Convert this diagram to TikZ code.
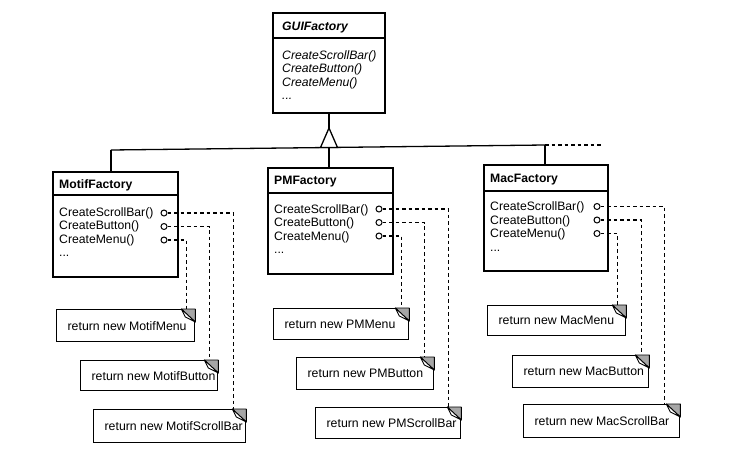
\documentclass[tikz,border=0pt]{standalone}
\usepackage{fontspec}
\setmainfont{Liberation Sans}
\usetikzlibrary{calc}
\newcommand{\dogear}[1]{%
  \filldraw[fill=gray!70, draw=black, line width=0.9pt, line join=round]
    ($(#1.north east)+(-14,0)$) -- (#1.north east) -- ($(#1.north east)+(0,13)$) -- cycle;
  \filldraw[fill=white, draw=black, line width=0.9pt, line join=round]
    ($(#1.north east)+(-14,0)$) -- ($(#1.north east)+(0,13)$) -- ($(#1.north east)+(-10,8)$) -- cycle;
}
\newcommand{\notetxt}[2]{\makebox[#1][l]{\hspace*{11pt}#2}}
\begin{document}
\begin{tikzpicture}[x=1pt, y=-1pt,
  cls/.style={draw, line width=1.5pt, inner sep=0, anchor=north west, fill=white},
  ln/.style={line width=1.3pt},
  dsh/.style={line width=1.2pt, dash pattern=on 3.5pt off 3pt},
  txt/.style={inner sep=0, anchor=base west, font=\fontsize{12.2}{14}\selectfont},
  ttl/.style={txt, font=\fontsize{12.2}{14}\selectfont\bfseries},
  port/.style={circle, draw, line width=1pt, fill=white, inner sep=0, minimum size=6pt},
  notebox/.style={draw, line width=1.3pt, fill=white, anchor=north west,
    inner sep=0pt, font=\fontsize{12.3}{14}\selectfont}
]
\useasboundingbox (0,0) rectangle (732,458);

% ---------- GUIFactory ----------
\node[cls, minimum width=112pt, minimum height=100pt] (gui) at (272,12) {};
\draw[ln] ($(gui.north west)+(0,26)$) -- ($(gui.north east)+(0,26)$);
\node[txt, font=\fontsize{12.2}{14}\selectfont\bfseries\itshape] (guit) at (282,30.5) {GUIFactory};
\node[txt, font=\fontsize{12.2}{14}\selectfont\itshape] (gui1) at (282,59.3) {CreateScrollBar()};
\node[txt, font=\fontsize{12.2}{14}\selectfont\itshape] (gui2) at (282,72.8) {CreateButton()};
\node[txt, font=\fontsize{12.2}{14}\selectfont\itshape] (gui3) at (282,86.3) {CreateMenu()};
\node[txt, font=\fontsize{12.2}{14}\selectfont\itshape] (gui4) at (282,99.8) {...};

% ---------- inheritance ----------
\coordinate (apex) at (329,128);
\coordinate (jm) at (111,150);
\coordinate (jp) at (329,147.5);
\coordinate (jc) at (545,145);
\coordinate (jend) at (603,145);
\draw[ln] (apex |- gui.south) -- (apex);
\draw[ln] (jm) -- (jc);
\draw[dsh, line width=1.3pt] (jc) -- (jend);
\draw[ln, fill=white, line join=miter] ($(jp)+(-8.5,0)$) -- (apex) -- ($(jp)+(8.5,0)$) -- cycle;

% ---------- MotifFactory ----------
\node[cls, minimum width=125pt, minimum height=105pt] (motif) at (52,171) {};
\draw[ln] (jm) -- (jm |- motif.north);
\draw[ln] ($(motif.north west)+(0,24)$) -- ($(motif.north east)+(0,24)$);
\node[ttl] (motift) at (59,188.3) {MotifFactory};
\node[txt] (motif1) at (59,216.3) {CreateScrollBar()};
\node[txt] (motif2) at (59,229.8) {CreateButton()};
\node[txt] (motif3) at (59,243.3) {CreateMenu()};
\node[txt] (motif4) at (59,256.8) {...};

% ---------- PMFactory ----------
\node[cls, minimum width=125pt, minimum height=106pt] (pm) at (267,167) {};
\draw[ln] (jp) -- (jp |- pm.north);
\draw[ln] ($(pm.north west)+(0,26)$) -- ($(pm.north east)+(0,26)$);
\node[ttl] (pmt) at (274,184.3) {PMFactory};
\node[txt] (pm1) at (274,213.3) {CreateScrollBar()};
\node[txt] (pm2) at (274,226.8) {CreateButton()};
\node[txt] (pm3) at (274,240.3) {CreateMenu()};
\node[txt] (pm4) at (274,253.8) {...};

% ---------- MacFactory ----------
\node[cls, minimum width=124pt, minimum height=106pt] (mac) at (483,164) {};
\draw[ln] (jc) -- (jc |- mac.north);
\draw[ln] ($(mac.north west)+(0,27)$) -- ($(mac.north east)+(0,27)$);
\node[ttl] (mact) at (490,182.3) {MacFactory};
\node[txt] (mac1) at (490,210.8) {CreateScrollBar()};
\node[txt] (mac2) at (490,224.3) {CreateButton()};
\node[txt] (mac3) at (490,237.8) {CreateMenu()};
\node[txt] (mac4) at (490,251.3) {...};

% ---------- notes ----------
\node[notebox, minimum height=32pt] (nmm) at (56,309) {\notetxt{138pt}{return new MotifMenu}};
\node[notebox, minimum height=30pt] (nmb) at (80,360) {\notetxt{137pt}{return new MotifButton}};
\node[notebox, minimum height=33pt] (nms) at (93,409) {\notetxt{152pt}{return new MotifScrollBar}};

\node[notebox, minimum height=31pt] (npm) at (273,308) {\notetxt{135pt}{return new PMMenu}};
\node[notebox, minimum height=32pt] (npb) at (296,357) {\notetxt{137pt}{return new PMButton}};
\node[notebox, minimum height=31pt] (nps) at (315,407) {\notetxt{145pt}{return new PMScrollBar}};

\node[notebox, minimum height=30pt] (nam) at (487,305) {\notetxt{138pt}{return new MacMenu}};
\node[notebox, minimum height=32pt] (nab) at (512,355) {\notetxt{136pt}{return new MacButton}};
\node[notebox, minimum height=33pt] (nas) at (523,404) {\notetxt{156pt}{return new MacScrollBar}};

% ---------- ports and dashed links ----------
\node[port] (mp1) at (164,213) {};
\node[port] (mp2) at (164,226.5) {};
\node[port] (mp3) at (164,240) {};
\draw[dsh] (mp1.east) -| ($(nms.north east)+(-13,0)$);
\draw[dsh] (mp2.east) -| ($(nmb.north east)+(-9,0)$);
\draw[dsh] (mp3.east) -| ($(nmm.north east)+(-9,0)$);

\node[port] (pp1) at (379,209) {};
\node[port] (pp2) at (379,222.5) {};
\node[port] (pp3) at (379,236) {};
\draw[dsh] (pp1.east) -| ($(nps.north east)+(-13,0)$);
\draw[dsh] (pp2.east) -| ($(npb.north east)+(-10,0)$);
\draw[dsh] (pp3.east) -| ($(npm.north east)+(-8,0)$);

\node[port] (ap1) at (597,206.5) {};
\node[port] (ap2) at (597,220) {};
\node[port] (ap3) at (597,233.5) {};
\draw[dsh] (ap1.east) -| ($(nas.north east)+(-16,0)$);
\draw[dsh] (ap2.east) -| ($(nab.north east)+(-8,0)$);
\draw[dsh] (ap3.east) -| ($(nam.north east)+(-9,0)$);

\dogear{nmm}\dogear{nmb}\dogear{nms}
\dogear{npm}\dogear{npb}\dogear{nps}
\dogear{nam}\dogear{nab}\dogear{nas}
\end{tikzpicture}
\end{document}
